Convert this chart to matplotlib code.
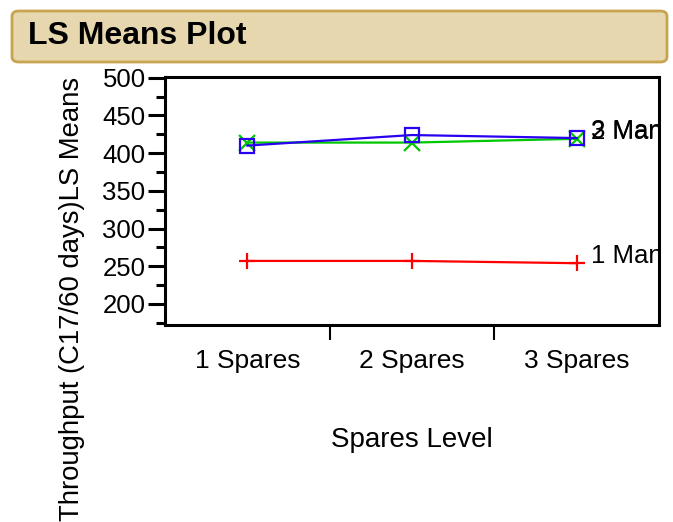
import matplotlib
matplotlib.use("Agg")
import matplotlib.pyplot as plt
from matplotlib.patches import FancyBboxPatch

plt.rcParams['font.family'] = ['Liberation Sans', 'DejaVu Sans']

# ================== Data ==================
levels = ["1 Spares", "2 Spares", "3 Spares"]
series_names = ["1 Manned", "2 Manned", "3 Manned"]
one_manned = [257, 257, 254]
two_manned = [414, 414, 419]
three_manned = [410, 424, 420]

y_ticks = [200, 250, 300, 350, 400, 450, 500]
y_minor = [175, 225, 275, 325, 375, 425, 475]

colors = ["#ff0000", "#00c800", "#2a00f0"]
markers = ["+", "x", "s"]

# ================== Figure ==================
W, H = 673, 522
fig = plt.figure(figsize=(W / 100, H / 100), dpi=100)

# title bar
box = FancyBboxPatch((12 / W, 1 - 62 / H), (667 - 12) / W, (62 - 11) / H,
                     boxstyle="round,pad=0,rounding_size=0.01",
                     transform=fig.transFigure, facecolor="#e6d7ae",
                     edgecolor="#c9a44e", linewidth=2, zorder=0)
fig.patches.append(box)
fig.text(28 / W, 1 - 36 / H, "LS Means Plot", fontsize=23, fontweight="bold",
         ha="left", va="center")

ax = fig.add_axes([165 / W, 1 - 325 / H, (659 - 165) / W, (325 - 77) / H])

x_pos = [0.5, 1.5, 2.5]
all_series = [one_manned, two_manned, three_manned]
for vals, name, c, m in zip(all_series, series_names, colors, markers):
    fill = "none" if m == "s" else c
    ax.plot(x_pos, vals, color=c, lw=1.6, marker=m, markersize=11 if m != "s" else 10,
            markeredgewidth=1.6, markerfacecolor=fill, clip_on=False)
    # series label next to last point, cut off by the frame like the original
    ax.annotate(name, (x_pos[-1], vals[-1]), xytext=(10.5, 0),
                textcoords="offset points", fontsize=18.5, ha="left",
                va="baseline", annotation_clip=False, clip_on=True)

ax.set_xlim(0, 3)
ax.set_ylim(172, 501)

ax.set_yticks(y_ticks)
ax.set_yticks(y_minor, minor=True)
ax.tick_params(axis="y", which="major", length=12, width=2.2, labelsize=18.5, pad=2)
ax.tick_params(axis="y", which="minor", length=6.5, width=2.2)

ax.set_xticks(x_pos, levels)
ax.set_xticks([1, 2], minor=True)
ax.tick_params(axis="x", which="major", length=0, labelsize=19, pad=17)
ax.tick_params(axis="x", which="minor", length=11, width=1.5)

for s in ax.spines.values():
    s.set_linewidth(2.2)

ax.set_xlabel("Spares Level", fontsize=20, labelpad=39)
fig.text(72 / W, 1 - 299 / H, "Throughput (C17/60 days)LS Means", fontsize=19.8,
         rotation=90, ha="center", va="center")

fig.savefig("out.png", dpi=100)
